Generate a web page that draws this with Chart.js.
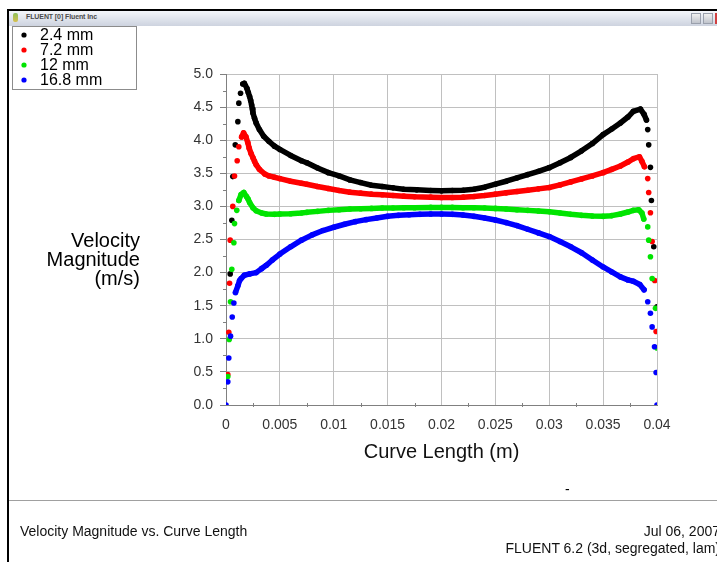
<!DOCTYPE html>
<html>
<head>
<meta charset="utf-8">
<script src="https://cdn.jsdelivr.net/npm/chart.js@4.4.1/dist/chart.umd.min.js"></script>
<style>
  html, body { margin: 0; padding: 0; background: #fff; }
  body { width: 717px; height: 562px; position: relative; overflow: hidden;
         font-family: "Liberation Sans", Arial, sans-serif; }
  #chart { position: absolute; left: 0; top: 0; }
  .abs { position: absolute; }
  #frameTop { left: 8px; top: 9px; width: 709px; height: 2px; background: #000; }
  #frameLeft { left: 7px; top: 9px; width: 2px; height: 553px; background: #000; }
  #titleBar { left: 9px; top: 11px; width: 708px; height: 15px;
              background: linear-gradient(#f4f6fa, #cdd3df); }
  #titleText { left: 26px; top: 13px; font-size: 7px; font-weight: bold; color: #4a4a4a;
               letter-spacing: -0.1px; }
  #icon { left: 13px; top: 13px; width: 5px; height: 9px;
          background: linear-gradient(#8bbf5a, #d8c050); border-radius: 2px; }
  .btn { top: 13px; width: 8px; height: 9px; border: 1px solid #9aa0ac;
         background: linear-gradient(#f0f0f0, #c0c4cc); }
  #btnMin { left: 691px; }
  #btnMax { left: 703px; }
  #btnClose { left: 715px; top: 13px; width: 2px; height: 11px; background: #d04040; }
  #sep { left: 9px; top: 500px; width: 708px; height: 1px; background: #a0a0a0; }
  #dash { left: 565px; top: 481px; font-size: 14px; color: #000; }
  #yTitle { left: 20px; top: 231px; width: 120px; text-align: right;
            font-size: 20px; line-height: 19px; color: #000; }
  #footLeft { left: 20px; top: 523px; font-size: 14px; color: #111; }
  #footRight { right: -3px; top: 523px; font-size: 14px; line-height: 17px;
               color: #111; text-align: right; }
</style>
</head>
<body>
<canvas id="chart" width="717" height="562"></canvas>

<div class="abs" id="frameTop"></div>
<div class="abs" id="frameLeft"></div>
<div class="abs" id="titleBar"></div>
<div class="abs" id="icon"></div>
<div class="abs" id="titleText">FLUENT [0] Fluent Inc</div>
<div class="abs btn" id="btnMin"></div>
<div class="abs btn" id="btnMax"></div>
<div class="abs" id="btnClose"></div>
<div class="abs" id="yTitle">Velocity<br>Magnitude<br>(m/s)</div>
<div class="abs" id="sep"></div>
<div class="abs" id="dash">-</div>
<div class="abs" id="footLeft">Velocity Magnitude vs. Curve Length</div>
<div class="abs" id="footRight">Jul 06, 2007<br>FLUENT 6.2 (3d, segregated, lam)</div>

<script>
// series labels and colours
const SERIES_LABELS = ["2.4 mm", "7.2 mm", "12 mm", "16.8 mm"];
const SERIES_COLORS = ["#000000", "#ff0000", "#00e400", "#0000ff"];

// tick labels
const X_TICK_LABELS = ["0", "0.005", "0.01", "0.015", "0.02", "0.025", "0.03", "0.035", "0.04"];
const Y_TICK_LABELS = ["0.0", "0.5", "1.0", "1.5", "2.0", "2.5", "3.0", "3.5", "4.0", "4.5", "5.0"];

// curve length (m) and velocity magnitude (m/s)
const X_24 = [0.00039, 0.00054, 0.00063, 0.00086, 0.0011, 0.00119, 0.00135, 0.00156, 0.0017, 0.00195,
  0.00207, 0.00219, 0.00229, 0.00238, 0.00245, 0.0025, 0.00265, 0.0028, 0.0031, 0.0035,
  0.004, 0.0045, 0.005, 0.006, 0.007, 0.0075, 0.0085, 0.0095, 0.0105, 0.0115,
  0.0125, 0.0135, 0.0145, 0.0155, 0.0165, 0.0177, 0.019, 0.02, 0.021, 0.022,
  0.023, 0.024, 0.025, 0.026, 0.027, 0.028, 0.029, 0.03, 0.031, 0.032,
  0.033, 0.034, 0.035, 0.0358, 0.0366, 0.0373, 0.0378, 0.03846, 0.0388, 0.03902,
  0.03914, 0.03923, 0.03939, 0.03948, 0.0397, 0.04];
const V_24 = [1.98, 2.79, 3.45, 3.93, 4.28, 4.56, 4.71, 4.85, 4.86, 4.78,
  4.72, 4.66, 4.60, 4.53, 4.47, 4.41, 4.33, 4.26, 4.16, 4.06,
  3.98, 3.91, 3.86, 3.77, 3.69, 3.66, 3.58, 3.51, 3.46, 3.40,
  3.36, 3.32, 3.30, 3.28, 3.26, 3.25, 3.24, 3.235, 3.24, 3.245,
  3.26, 3.29, 3.335, 3.38, 3.43, 3.48, 3.53, 3.585, 3.66, 3.74,
  3.84, 3.95, 4.085, 4.17, 4.26, 4.35, 4.435, 4.47, 4.39, 4.305,
  4.16, 3.93, 3.59, 3.09, 2.39, 1.485];

const X_72 = [0.000167, 0.00026, 0.00033, 0.00039, 0.00063, 0.00079, 0.00104, 0.00119, 0.00145, 0.00163,
  0.00185, 0.00203, 0.00215, 0.00232, 0.0025, 0.00265, 0.0028, 0.0031, 0.0036, 0.004,
  0.0045, 0.005, 0.006, 0.007, 0.0075, 0.0085, 0.0095, 0.0105, 0.0115, 0.0125,
  0.0135, 0.0145, 0.0155, 0.0165, 0.0175, 0.019, 0.02, 0.021, 0.022, 0.023,
  0.024, 0.025, 0.026, 0.027, 0.028, 0.029, 0.03, 0.031, 0.032, 0.033,
  0.034, 0.035, 0.0358, 0.0366, 0.0373, 0.0378, 0.03837, 0.0386, 0.03883, 0.03914,
  0.03923, 0.03939, 0.03955, 0.03979, 0.03992];
const V_72 = [0.46, 1.10, 1.84, 2.49, 3.0, 3.46, 3.69, 3.90, 4.05, 4.11,
  4.05, 3.96, 3.88, 3.80, 3.735, 3.68, 3.63, 3.56, 3.49, 3.46,
  3.44, 3.42, 3.38, 3.35, 3.335, 3.30, 3.27, 3.24, 3.215, 3.20,
  3.185, 3.175, 3.165, 3.155, 3.145, 3.14, 3.135, 3.135, 3.14, 3.15,
  3.165, 3.185, 3.205, 3.225, 3.245, 3.265, 3.285, 3.325, 3.37, 3.415,
  3.46, 3.51, 3.56, 3.61, 3.67, 3.72, 3.75, 3.68, 3.60, 3.42,
  3.21, 2.905, 2.47, 1.88, 1.11];

const X_12 = [0.000167, 0.0003, 0.00042, 0.00054, 0.00073, 0.00079, 0.001, 0.00119, 0.0014, 0.00165,
  0.0019, 0.00205, 0.00219, 0.0025, 0.0028, 0.0033, 0.00374, 0.0045, 0.005, 0.006,
  0.007, 0.0075, 0.0085, 0.0095, 0.0105, 0.0115, 0.0125, 0.0135, 0.0145, 0.0155,
  0.0165, 0.0175, 0.019, 0.02, 0.021, 0.022, 0.023, 0.024, 0.025, 0.026,
  0.027, 0.028, 0.029, 0.03, 0.031, 0.032, 0.033, 0.034, 0.035, 0.0358,
  0.0366, 0.0373, 0.0378, 0.0383, 0.0386, 0.03877, 0.03914, 0.03923, 0.03939, 0.03955,
  0.03986, 0.04];
const V_12 = [0.43, 0.99, 1.56, 2.05, 2.45, 2.74, 2.94, 3.09, 3.18, 3.21,
  3.15, 3.11, 3.06, 2.98, 2.935, 2.90, 2.885, 2.88, 2.885, 2.89,
  2.90, 2.91, 2.925, 2.94, 2.95, 2.96, 2.965, 2.97, 2.975, 2.975,
  2.98, 2.98, 2.985, 2.985, 2.985, 2.98, 2.98, 2.975, 2.97, 2.96,
  2.95, 2.94, 2.93, 2.92, 2.90, 2.88, 2.865, 2.855, 2.85, 2.86,
  2.885, 2.915, 2.94, 2.95, 2.90, 2.81, 2.69, 2.49, 2.24, 1.91,
  1.46, 0.86];

const X_168 = [0, 0.000167, 0.00026, 0.00042, 0.00058, 0.00073, 0.00088, 0.0011, 0.00126, 0.0014,
  0.0017, 0.0022, 0.0028, 0.0033, 0.00374, 0.0043, 0.005, 0.006, 0.007, 0.008,
  0.009, 0.01, 0.011, 0.012, 0.013, 0.014, 0.015, 0.016, 0.017, 0.018,
  0.019, 0.02, 0.021, 0.022, 0.023, 0.024, 0.025, 0.026, 0.027, 0.028,
  0.029, 0.03, 0.031, 0.032, 0.033, 0.034, 0.035, 0.0358, 0.0366, 0.0373,
  0.0378, 0.0384, 0.0388, 0.03914, 0.03939, 0.03955, 0.03977, 0.03992, 0.04];
const V_168 = [0, 0.35, 0.71, 1.04, 1.33, 1.54, 1.70, 1.80, 1.88, 1.91,
  1.96, 1.98, 2.00, 2.06, 2.11, 2.19, 2.28, 2.39, 2.49, 2.57,
  2.635, 2.685, 2.73, 2.77, 2.80, 2.825, 2.85, 2.865, 2.875, 2.88,
  2.885, 2.885, 2.88, 2.87, 2.85, 2.825, 2.795, 2.755, 2.71, 2.655,
  2.60, 2.545, 2.47, 2.39, 2.30, 2.19, 2.085, 2.01, 1.935, 1.89,
  1.87, 1.82, 1.74, 1.56, 1.385, 1.18, 0.88, 0.49, 0];

const SERIES_X = [X_24, X_72, X_12, X_168];
const SERIES_V = [V_24, V_72, V_12, V_168];

const FONT = '"Liberation Sans", Arial, sans-serif';
Chart.defaults.font.family = FONT;

// dense mesh points read as one thick band; steep jumps near the walls stay as single dots
const gapColor = (color) => (ctx) => {
  const dx = Math.abs(ctx.p1.x - ctx.p0.x), dy = Math.abs(ctx.p1.y - ctx.p0.y);
  return Math.hypot(dx, dy) > 8 && dy > 1.8 * dx ? "rgba(0,0,0,0)" : color;
};

const datasets = SERIES_LABELS.map((label, i) => ({
  label,
  data: SERIES_X[i].map((x, k) => ({ x, y: SERIES_V[i][k] })),
  showLine: true,
  borderColor: SERIES_COLORS[i],
  backgroundColor: SERIES_COLORS[i],
  borderWidth: 5.5,
  borderCapStyle: "round",
  borderJoinStyle: "round",
  pointRadius: 2.8,
  pointBorderWidth: 0,
  order: SERIES_LABELS.length - 1 - i,
  segment: { borderColor: gapColor(SERIES_COLORS[i]) },
}));

// legend box in the top-left corner, like the Fluent window
const boxLegend = {
  id: "boxLegend",
  afterDraw(chart) {
    const { ctx } = chart;
    ctx.save();
    ctx.strokeStyle = "#8c8c8c";
    ctx.lineWidth = 1;
    ctx.strokeRect(12.5, 26.5, 124, 63);
    ctx.font = "16px " + FONT;
    ctx.textBaseline = "middle";
    chart.data.datasets.forEach((ds, i) => {
      const y = 35 + i * 15;
      ctx.fillStyle = ds.borderColor;
      ctx.beginPath();
      ctx.arc(24, y, 2.6, 0, Math.PI * 2);
      ctx.fill();
      ctx.fillStyle = "#000";
      ctx.fillText(ds.label, 40, y + 1);
    });
    ctx.restore();
  },
};

// small minor ticks halfway between the major ones
const minorTicks = {
  id: "minorTicks",
  afterDraw(chart) {
    const { ctx, scales: { x, y } } = chart;
    ctx.save();
    ctx.strokeStyle = "#808080";
    ctx.lineWidth = 1;
    ctx.beginPath();
    for (let i = 0; i < x.ticks.length - 1; i++) {
      const px = Math.round(x.getPixelForValue((x.ticks[i].value + x.ticks[i + 1].value) / 2)) + 0.5;
      ctx.moveTo(px, x.top - 2);
      ctx.lineTo(px, x.top + 2);
    }
    for (let i = 0; i < y.ticks.length - 1; i++) {
      const py = Math.round(y.getPixelForValue((y.ticks[i].value + y.ticks[i + 1].value) / 2)) + 0.5;
      ctx.moveTo(y.right - 3, py);
      ctx.lineTo(y.right, py);
    }
    ctx.stroke();
    ctx.restore();
  },
};

new Chart(document.getElementById("chart"), {
  type: "scatter",
  data: { datasets },
  options: {
    responsive: false,
    animation: false,
    devicePixelRatio: 1,
    layout: { padding: { left: 0, right: 60, top: 74, bottom: 98 } },
    plugins: { legend: { display: false }, tooltip: { enabled: false } },
    scales: {
      x: {
        type: "linear",
        min: 0,
        max: 0.04,
        afterFit(scale) {
          scale.height = 59;
          scale.paddingLeft = 0;
          scale.paddingRight = 0;
        },
        ticks: {
          stepSize: 0.005,
          padding: 12,
          color: "#333",
          font: { size: 14 },
          callback: (v, i) => X_TICK_LABELS[i],
        },
        grid: { color: "#c0c0c0", drawTicks: false },
        border: { color: "#808080" },
        title: {
          display: true,
          text: "Curve Length (m)",
          color: "#111",
          font: { size: 20 },
          padding: 0,
        },
      },
      y: {
        type: "linear",
        min: 0,
        max: 5,
        afterFit(scale) {
          scale.width = 226;
          scale.paddingTop = 0;
          scale.paddingBottom = 0;
        },
        ticks: {
          stepSize: 0.5,
          padding: 7,
          color: "#333",
          font: { size: 14 },
          callback: (v, i) => Y_TICK_LABELS[i],
        },
        grid: { color: "#c0c0c0", tickColor: "#808080", tickLength: 6 },
        border: { color: "#808080" },
      },
    },
  },
  plugins: [boxLegend, minorTicks],
});
</script>
</body>
</html>
